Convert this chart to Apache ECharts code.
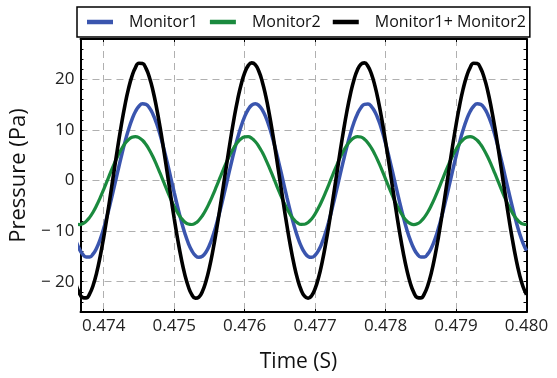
<!DOCTYPE html>
<html>
<head>
<meta charset="utf-8">
<script src="https://cdn.jsdelivr.net/npm/echarts@6/dist/echarts.min.js"></script>
<style>html,body{margin:0;padding:0;background:#fff}#chart{width:557px;height:378px}</style>
</head>
<body>
<div id="chart"></div>
<script>
// Sample times (s)
var times = [0.47360,0.47365,0.47370,0.47375,0.47380,0.47385,0.47390,0.47395,
0.47400,0.47405,0.47410,0.47415,0.47420,0.47425,0.47430,0.47435,0.47440,0.47445,0.47450,0.47455,0.47460,0.47465,0.47470,0.47475,0.47480,0.47485,0.47490,0.47495,
0.47500,0.47505,0.47510,0.47515,0.47520,0.47525,0.47530,0.47535,0.47540,0.47545,0.47550,0.47555,0.47560,0.47565,0.47570,0.47575,0.47580,0.47585,0.47590,0.47595,
0.47600,0.47605,0.47610,0.47615,0.47620,0.47625,0.47630,0.47635,0.47640,0.47645,0.47650,0.47655,0.47660,0.47665,0.47670,0.47675,0.47680,0.47685,0.47690,0.47695,
0.47700,0.47705,0.47710,0.47715,0.47720,0.47725,0.47730,0.47735,0.47740,0.47745,0.47750,0.47755,0.47760,0.47765,0.47770,0.47775,0.47780,0.47785,0.47790,0.47795,
0.47800,0.47805,0.47810,0.47815,0.47820,0.47825,0.47830,0.47835,0.47840,0.47845,0.47850,0.47855,0.47860,0.47865,0.47870,0.47875,0.47880,0.47885,0.47890,0.47895,
0.47900,0.47905,0.47910,0.47915,0.47920,0.47925,0.47930,0.47935,0.47940,0.47945,0.47950,0.47955,0.47960,0.47965,0.47970,0.47975,0.47980,0.47985,0.47990,0.47995,
0.48000];
// Pressure (Pa)
var monitor1 = [
-11.75,-13.42,-14.56,-15.13,-15.11,-14.50,-13.32,-11.61,-9.45,-6.92,
-4.12,-1.15,1.86,4.80,7.55,10.00,12.06,13.65,14.70,15.17,
15.05,14.34,13.07,11.28,9.06,6.47,3.63,0.65,-2.36,-5.27,
-7.98,-10.37,-12.36,-13.86,-14.82,-15.19,-14.97,-14.17,-12.81,-10.94,
-8.64,-6.01,-3.14,-0.15,2.85,5.74,8.40,10.73,12.64,14.06,
14.92,15.20,14.88,13.98,12.53,10.59,8.22,5.54,2.65,-0.36,
-3.34,-6.20,-8.82,-11.09,-12.92,-14.24,-15.01,-15.19,-14.77,-13.77,
-12.23,-10.22,-7.80,-5.07,-2.15,0.86,3.83,6.66,9.22,11.43,
13.17,14.41,15.08,15.16,14.64,13.55,11.93,9.84,7.36,4.60,
1.65,-1.36,-4.32,-7.10,-9.62,-11.75,-13.42,-14.56,-15.13,-15.11,
-14.50,-13.32,-11.61,-9.45,-6.92,-4.12,-1.15,1.86,4.80,7.55,
10.00,12.06,13.65,14.70,15.17,15.05,14.34,13.07,11.28,9.06,
6.47,3.63,0.65,-2.36,-5.27,-7.98,-10.37,-12.36,-13.86];
var monitor2 = [
-8.50,-8.70,-8.56,-8.08,-7.29,-6.21,-4.89,-3.37,-1.73,-0.01,
1.70,3.35,4.87,6.19,7.28,8.07,8.55,8.70,8.50,7.97,
7.13,6.00,4.65,3.11,1.45,-0.28,-1.98,-3.62,-5.10,-6.39,
-7.43,-8.18,-8.60,-8.69,-8.44,-7.85,-6.96,-5.79,-4.40,-2.84,
-1.16,0.56,2.26,3.88,5.33,6.59,7.58,8.27,8.64,8.67,
8.36,7.72,6.78,5.58,4.15,2.56,0.87,-0.85,-2.54,-4.13,
-5.56,-6.77,-7.71,-8.36,-8.67,-8.64,-8.28,-7.59,-6.60,-5.35,
-3.89,-2.29,-0.59,1.14,2.81,4.38,5.78,6.95,7.84,8.43,
8.69,8.61,8.19,7.44,6.41,5.13,3.64,2.01,0.30,-1.42,
-3.09,-4.63,-5.99,-7.11,-7.96,-8.50,-8.70,-8.56,-8.08,-7.29,
-6.21,-4.89,-3.37,-1.73,-0.01,1.70,3.35,4.87,6.19,7.28,
8.07,8.55,8.70,8.50,7.97,7.13,6.00,4.65,3.11,1.45,
-0.28,-1.98,-3.62,-5.10,-6.39,-7.43,-8.18,-8.60,-8.69];
var monitorSum = [
-20.25,-22.12,-23.12,-23.21,-22.40,-20.71,-18.21,-14.98,-11.18,-6.93,
-2.42,2.20,6.73,10.99,14.83,18.07,20.61,22.35,23.20,23.14,
22.18,20.34,17.72,14.39,10.51,6.19,1.65,-2.97,-7.46,-11.66,
-15.41,-18.55,-20.96,-22.55,-23.26,-23.04,-21.93,-19.96,-17.21,-13.78,
-9.80,-5.45,-0.88,3.73,8.18,12.33,15.98,19.00,21.28,22.73,
23.28,22.92,21.66,19.56,16.68,13.15,9.09,4.69,0.11,-4.49,
-8.90,-12.97,-16.53,-19.45,-21.59,-22.88,-23.29,-22.78,-21.37,-19.12,
-16.12,-12.51,-8.39,-3.93,0.66,5.24,9.61,13.61,17.06,19.86,
21.86,23.02,23.27,22.60,21.05,18.68,15.57,11.85,7.66,3.18,
-1.44,-5.99,-10.31,-14.21,-17.58,-20.25,-22.12,-23.12,-23.21,-22.40,
-20.71,-18.21,-14.98,-11.18,-6.93,-2.42,2.20,6.73,10.99,14.83,
18.07,20.61,22.35,23.20,23.14,22.18,20.34,17.72,14.39,10.51,
6.19,1.65,-2.97,-7.46,-11.66,-15.41,-18.55,-20.96,-22.55];
var seriesNames = ['Monitor1', 'Monitor2', 'Monitor1+ Monitor2'];
var xRange = [0.47367, 0.480];
var yRange = [-26, 28];

function pairs(vals){ return times.map(function(t,i){ return [t, vals[i]]; }); }

var font = '"Open Sans", "Noto Sans", sans-serif';
var chart = echarts.init(document.getElementById('chart'), null, {renderer:'canvas'});
var dashed = {show:true, lineStyle:{color:'#b0b0b0', width:1, type:[7,5]}};
var blackLine = {show:true, onZero:false, lineStyle:{color:'#000', width:2}};
var innerTick = {show:true, inside:true, length:3, lineStyle:{color:'#000', width:1}};

chart.setOption({
  animation:false,
  backgroundColor:'#fff',
  textStyle:{fontFamily:font},
  legend:{
    left:77, top:7,
    padding:[6,4,6,10],
    borderColor:'#000', borderWidth:1.5,
    icon:'rect', itemWidth:26, itemHeight:4.5, itemGap:12,
    textStyle:{fontFamily:font, fontSize:16, color:'#111', padding:[0,0,0,11], lineHeight:18},
    data:seriesNames
  },
  grid:{left:78, right:30.5, top:39, bottom:66, containLabel:false},
  xAxis:[{
    type:'value', position:'bottom', min:xRange[0], max:xRange[1], splitNumber:6,
    name:'Time (S)', nameLocation:'middle', nameGap:40,
    nameTextStyle:{fontFamily:font, fontSize:21, color:'#111', padding:[0,10,0,0]},
    axisLine:blackLine,
    axisTick:innerTick,
    axisLabel:{showMinLabel:false, fontFamily:font, fontSize:17, color:'#222', margin:6,
      formatter:function(v){ return v.toFixed(3); }},
    splitLine:dashed
  },{
    type:'value', position:'top', min:xRange[0], max:xRange[1], splitNumber:6,
    axisLine:blackLine,
    axisTick:innerTick,
    axisLabel:{show:false}, splitLine:{show:false}
  }],
  yAxis:[{
    type:'value', position:'left', min:yRange[0], max:yRange[1], splitNumber:5,
    name:'Pressure (Pa)', nameLocation:'middle', nameGap:44,
    nameTextStyle:{fontFamily:font, fontSize:22, color:'#111'},
    axisLine:blackLine,
    axisTick:{show:false},
    axisLabel:{showMinLabel:false, showMaxLabel:false, fontFamily:font, fontSize:17, color:'#222', margin:6,
      formatter:function(v){ return v < 0 ? '\u2212 ' + (-v) : String(v); }},
    splitLine:dashed
  },{
    type:'value', position:'left', min:yRange[0], max:yRange[1], interval:2,
    axisLine:{show:false, onZero:false},
    axisTick:innerTick,
    axisLabel:{show:false}, splitLine:{show:false}
  },{
    type:'value', position:'right', min:yRange[0], max:yRange[1], interval:2,
    axisLine:blackLine,
    axisTick:innerTick,
    axisLabel:{show:false}, splitLine:{show:false}
  }],
  series:[
    {name:seriesNames[0], type:'line', data:pairs(monitor1), smooth:true, showSymbol:false,
      color:'#3a55ae', lineStyle:{width:3.5, color:'#3a55ae'}},
    {name:seriesNames[1], type:'line', data:pairs(monitor2), smooth:true, showSymbol:false,
      color:'#1a8a3e', lineStyle:{width:3.2, color:'#1a8a3e'}},
    {name:seriesNames[2], type:'line', data:pairs(monitorSum), smooth:true, showSymbol:false,
      color:'#000', lineStyle:{width:3.6, color:'#000'}}
  ]
});
</script>
</body>
</html>
